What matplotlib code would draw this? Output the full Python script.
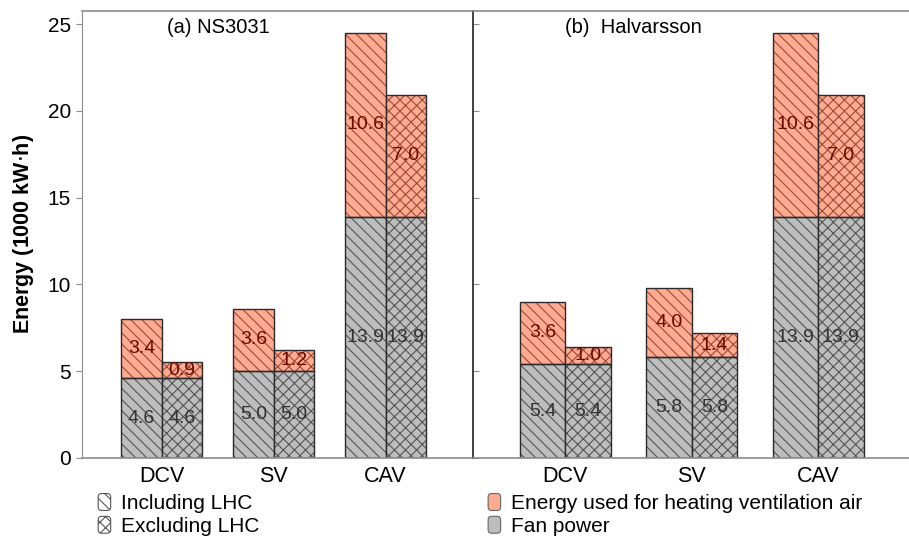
import numpy as np
import matplotlib.pyplot as plt
from matplotlib.patches import Patch, FancyBboxPatch
from matplotlib.legend_handler import HandlerPatch

plt.rcParams['font.family'] = ['Liberation Sans', 'DejaVu Sans']
plt.rcParams['hatch.linewidth'] = 0.8

categories = ['DCV', 'SV', 'CAV']

# (a) NS3031
fan_ns = [4.6, 5.0, 13.9]
heat_incl_ns = [3.4, 3.6, 10.6]
heat_excl_ns = [0.9, 1.2, 7.0]

# (b) Halvarsson
fan_hal = [5.4, 5.8, 13.9]
heat_incl_hal = [3.6, 4.0, 10.6]
heat_excl_hal = [1.0, 1.4, 7.0]

panel_titles = ['(a) NS3031', '(b)  Halvarsson']
title_x = [0.35, 0.367]

heat_color = '#ffab91'
fan_color = '#bdbdbd'
heat_hatch = '#9c4a38'
fan_hatch = '#555555'
edge = '#2b2b2b'
hatch_incl = '\\\\\\'
hatch_excl = 'xxx'


class RoundedPatchHandler(HandlerPatch):
    # legend keys drawn as small rounded boxes
    def create_artists(self, legend, orig_handle, xdescent, ydescent,
                       width, height, fontsize, trans):
        p = FancyBboxPatch((-xdescent, -ydescent), width, height,
                           boxstyle='round,pad=0,rounding_size=2.5')
        self.update_prop(p, orig_handle, legend)
        p.set_transform(trans)
        return [p]


fig = plt.figure(figsize=(9.09, 5.4), dpi=100)
ax1 = fig.add_axes([0.0902, 0.152, 0.4302, 0.8276])
ax2 = fig.add_axes([0.5204, 0.152, 0.4796, 0.8276])

x = np.arange(len(categories))
w = 0.36


def stacked(ax, pos, fan, heat, hatch):
    # hatched fill first, then a clean outline on top
    ax.bar(pos, fan, w, color=fan_color, edgecolor=fan_hatch, hatch=hatch, lw=0)
    ax.bar(pos, heat, w, bottom=fan, color=heat_color, edgecolor=heat_hatch,
           hatch=hatch, lw=0)
    ax.bar(pos, fan, w, fill=False, edgecolor=edge, lw=1.0)
    ax.bar(pos, heat, w, bottom=fan, fill=False, edgecolor=edge, lw=1.0)
    for p, f, h in zip(pos, fan, heat):
        ax.text(p, f / 2, f'{f:.1f}', ha='center', va='center',
                fontsize=14, color='#333333')
        ax.text(p, f + h / 2, f'{h:.1f}', ha='center', va='center',
                fontsize=14, color='#6b0a00')


panels = [
    (ax1, fan_ns, heat_incl_ns, heat_excl_ns, (-0.71, 2.78)),
    (ax2, fan_hal, heat_incl_hal, heat_excl_hal, (-0.73, 2.72)),
]

for i, (ax, fan, incl, excl, xl) in enumerate(panels):
    stacked(ax, x - w / 2, fan, incl, hatch_incl)
    stacked(ax, x + w / 2, fan, excl, hatch_excl)
    ax.set_xlim(*xl)
    ax.set_ylim(0, 25.75)
    ax.set_yticks([0, 5, 10, 15, 20, 25])
    ax.set_xticks(x)
    ax.set_xticklabels(categories, fontsize=15.5)
    ax.tick_params(axis='x', length=0, pad=6)
    ax.spines['right'].set_visible(False)
    for s in ['top', 'bottom']:
        ax.spines[s].set_color('#8c8c8c')
        ax.spines[s].set_linewidth(1.2)
    ax.text(title_x[i], 0.962, panel_titles[i], transform=ax.transAxes,
            ha='center', va='center', fontsize=14.5)

ax1.spines['left'].set_color('#8c8c8c')
ax1.tick_params(axis='y', labelsize=15, color='#8c8c8c', length=4, pad=4)
ax1.set_ylabel('Energy (1000 kW$\\cdot$h)', fontsize=15.5, fontweight='bold', labelpad=8)

ax2.spines['left'].set_color('#333333')
ax2.spines['left'].set_linewidth(1.3)
ax2.tick_params(axis='y', direction='in', labelleft=False, color='#8c8c8c', length=4)

hatch_handles = [
    Patch(facecolor='white', edgecolor='#555555', hatch=hatch_incl, lw=0.8,
          label='Including LHC'),
    Patch(facecolor='white', edgecolor='#555555', hatch=hatch_excl, lw=0.8,
          label='Excluding LHC'),
]
color_handles = [
    Patch(facecolor=heat_color, edgecolor='#666666', lw=0.8,
          label='Energy used for heating ventilation air'),
    Patch(facecolor=fan_color, edgecolor='#666666', lw=0.8, label='Fan power'),
]
leg_kw = dict(frameon=False, fontsize=15, handlelength=0.6, handleheight=0.87,
              handletextpad=0.5, labelspacing=0.15, borderaxespad=0, borderpad=0,
              handler_map={Patch: RoundedPatchHandler()})
fig.legend(handles=hatch_handles, loc='upper left',
           bbox_to_anchor=(0.108, 0.086), **leg_kw)
fig.legend(handles=color_handles, loc='upper left',
           bbox_to_anchor=(0.537, 0.086), **leg_kw)

fig.savefig('out.png', dpi=100)
